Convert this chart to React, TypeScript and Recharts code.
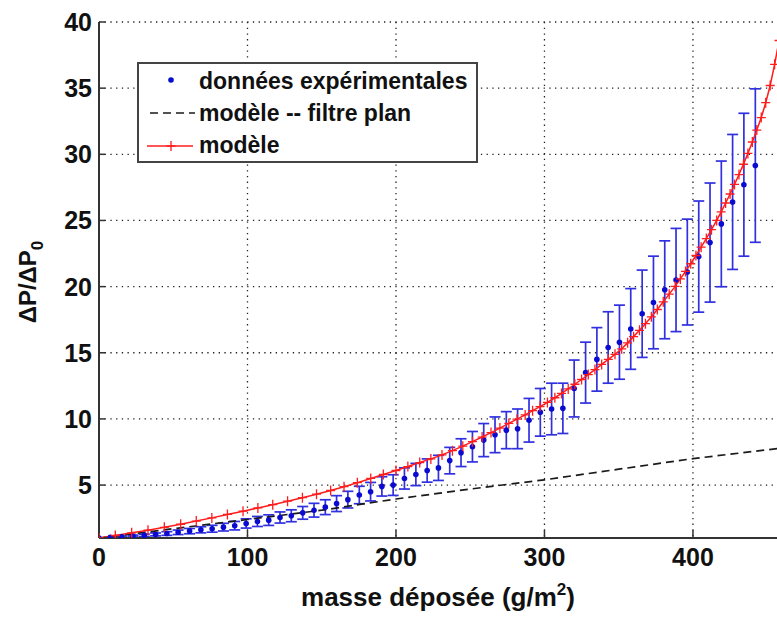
import React from 'react';
import { ComposedChart, Line, Scatter, XAxis, YAxis, CartesianGrid, ErrorBar, Legend, Label } from 'recharts';

const X_TICKS = [0, 100, 200, 300, 400];
const Y_TICKS = [5, 10, 15, 20, 25, 30, 35, 40];
const X_MAX = 456.6;
const Y_MIN = 1;
const Y_MAX = 40;

// données expérimentales (mean and +/- error)
const EXP_X = [0, 7.6, 15.2, 22.9, 30.5, 38.1, 45.7, 53.3, 61.0, 68.6, 76.2, 83.8, 91.4, 99.1, 106.7, 114.3, 121.9, 129.5, 137.2, 144.8, 152.4, 160.0, 167.6, 175.3, 182.9, 190.5, 198.1, 205.7, 213.4, 221.0, 228.6, 236.2, 243.8, 251.5, 259.1, 266.7, 274.3, 281.9, 289.6, 297.2, 304.8, 312.4, 320.0, 327.7, 335.3, 342.9, 350.5, 358.1, 365.8, 373.4, 381.0, 388.6, 396.2, 403.9, 411.5, 419.1, 426.7, 434.3, 442.0];
const EXP_Y = [1.0, 1.05, 1.1, 1.15, 1.2, 1.27, 1.34, 1.43, 1.52, 1.62, 1.7, 1.82, 1.93, 2.1, 2.25, 2.35, 2.55, 2.68, 2.9, 3.1, 3.33, 3.6, 3.9, 4.25, 4.5, 4.9, 5.0, 5.5, 5.8, 6.1, 6.3, 6.85, 7.45, 7.9, 8.4, 8.8, 9.15, 9.25, 9.9, 10.5, 10.75, 10.8, 12.3, 13.5, 14.5, 15.4, 15.8, 16.8, 17.95, 18.8, 19.76, 20.5, 21.1, 22.27, 23.33, 24.74, 26.4, 27.7, 29.15];
const EXP_ERR = [0, 0.03, 0.05, 0.07, 0.09, 0.11, 0.14, 0.17, 0.2, 0.23, 0.26, 0.29, 0.32, 0.35, 0.38, 0.4, 0.42, 0.45, 0.48, 0.52, 0.56, 0.6, 0.63, 0.66, 0.7, 0.73, 0.78, 0.8, 0.84, 0.88, 0.95, 1.0, 1.05, 1.15, 1.25, 1.35, 1.4, 1.5, 1.65, 1.8, 1.95, 1.9, 2.15, 2.3, 2.4, 2.7, 2.8, 3.05, 3.3, 3.5, 3.7, 3.9, 4.0, 4.2, 4.5, 4.75, 5.1, 5.4, 5.8];

// modèle (red, + markers)
const MODEL_X = [0, 11, 22, 33, 44, 55, 65.5, 76, 86.5, 97, 107, 117, 127, 137, 146.5, 156, 165, 174, 183, 191.5, 200, 208, 216, 223.5, 231, 238, 245, 251.5, 258, 264, 270, 276, 281.5, 287, 292, 297, 302, 307, 311.5, 316, 320.5, 325, 329.5, 334, 338.5, 343, 347.5, 352, 356, 360, 364, 368, 372, 376, 380, 384, 388, 391.5, 395, 398.5, 402, 405.5, 409, 412.5, 416, 419, 422, 425, 428, 431, 434, 437, 440, 443, 446, 449, 452, 455, 458];
const MODEL_Y = [1.0, 1.19, 1.39, 1.59, 1.81, 2.04, 2.28, 2.52, 2.78, 3.03, 3.27, 3.52, 3.78, 4.05, 4.31, 4.59, 4.88, 5.18, 5.5, 5.8, 6.1, 6.4, 6.7, 6.98, 7.28, 7.6, 7.94, 8.28, 8.63, 8.97, 9.31, 9.66, 9.98, 10.3, 10.62, 10.93, 11.25, 11.6, 11.93, 12.27, 12.62, 12.98, 13.35, 13.73, 14.12, 14.5, 14.88, 15.3, 15.75, 16.22, 16.7, 17.2, 17.72, 18.27, 18.85, 19.43, 20.02, 20.58, 21.15, 21.73, 22.35, 22.98, 23.63, 24.3, 25.0, 25.65, 26.32, 27.0, 27.72, 28.47, 29.25, 30.07, 30.93, 31.83, 32.78, 33.9, 35.2, 36.8, 38.6];

// modèle -- filtre plan (black dashed)
const PLAN_X = [0, 50, 100, 150, 200, 250, 300, 350, 400, 460];
const PLAN_Y = [1.0, 1.7, 2.4, 3.1, 3.95, 4.7, 5.4, 6.2, 7.0, 7.8];

const LEGEND_LABELS = ['données expérimentales', 'modèle -- filtre plan', 'modèle'];

const expData = EXP_X.map((x, i) => ({ x, y: EXP_Y[i], err: EXP_ERR[i] }));
const modelData = MODEL_X.map((x, i) => ({ x, y: MODEL_Y[i] }));
const planData = PLAN_X.map((x, i) => ({ x, y: PLAN_Y[i] }));

const FONT = '"Liberation Sans", Arial, Helvetica, sans-serif';
const BLUE = '#0a0ad0';
const BLUE_BAR = '#3030e0';
const RED = '#ff1c1c';
const DARK = '#1a1a1a';

const XTick = (props: any) => {
  const { x, y, payload } = props;
  return (
    <text x={x} y={y} textAnchor="middle" fontFamily={FONT} fontWeight="bold" fontSize={25} fill="#111">
      {payload.value}
    </text>
  );
};

const YTick = (props: any) => {
  const { x, y, payload } = props;
  return (
    <text x={x} y={y} dy={9} textAnchor="end" fontFamily={FONT} fontWeight="bold" fontSize={25} fill="#111">
      {payload.value}
    </text>
  );
};

const BlueDot = (props: any) => {
  const { cx, cy } = props;
  if (cx == null || cy == null) return null;
  return <circle cx={cx} cy={cy} r={2.8} fill={BLUE} />;
};

const PlusDot = (props: any) => {
  const { cx, cy, index } = props;
  if (cx == null || cy == null) return null;
  return (
    <path
      key={`p-${index}`}
      d={`M${cx - 4.5},${cy}H${cx + 4.5}M${cx},${cy - 5}V${cy + 5}`}
      stroke={RED}
      strokeWidth={1.3}
      fill="none"
    />
  );
};

const XLabel = () => (
  <text x={438} y={606} textAnchor="middle" fontFamily={FONT} fontWeight="bold" fontSize={26} fill="#111">
    masse déposée (g/m
    <tspan dy={-11} fontSize={17}>2</tspan>
    <tspan dy={11}>)</tspan>
  </text>
);

const YLabel = () => (
  <text
    transform="translate(36,282) rotate(-90)"
    textAnchor="middle"
    fontFamily={FONT}
    fontWeight="bold"
    fontSize={24}
    fill="#111"
  >
    ΔP/ΔP
    <tspan dy={7} fontSize={17}>0</tspan>
  </text>
);

const LegendBox = () => (
  <svg width={342} height={102} style={{ display: 'block' }}>
    <rect x={1} y={1} width={339} height={99} fill="#fff" stroke="#444" strokeWidth={2} />
    <circle cx={34} cy={18} r={2.8} fill={BLUE} />
    <line x1={13} y1={51} x2={58} y2={51} stroke={DARK} strokeWidth={1.6} strokeDasharray="8 5" />
    <line x1={10} y1={84} x2={56} y2={84} stroke={RED} strokeWidth={1.5} />
    <path d="M29.5,84H38.5M34,79V89" stroke={RED} strokeWidth={1.3} />
    {LEGEND_LABELS.map((t, i) => (
      <text key={t} x={62} y={27 + i * 32} fontFamily={FONT} fontWeight="bold" fontSize={23} fill="#111">
        {t}
      </text>
    ))}
  </svg>
);

export default function App() {
  return (
    <div style={{ position: 'absolute', left: 0, top: 0, width: 777, height: 617, background: '#fff' }}>
      <ComposedChart width={777} height={617} margin={{ top: 22, right: 0, bottom: 0, left: 0 }}>
        <CartesianGrid
          stroke="#222"
          strokeWidth={1.3}
          strokeDasharray="1.3 4.4"
          horizontalValues={Y_TICKS}
          verticalValues={X_TICKS}
        />
        <XAxis
          type="number"
          dataKey="x"
          domain={[0, X_MAX]}
          ticks={X_TICKS}
          allowDataOverflow
          height={79}
          tickSize={-8}
          tickMargin={36}
          tick={XTick}
          axisLine={{ stroke: '#333', strokeWidth: 2 }}
          tickLine={{ stroke: '#333', strokeWidth: 1.5 }}
        >
          <Label content={XLabel} />
        </XAxis>
        <YAxis
          type="number"
          dataKey="y"
          domain={[Y_MIN, Y_MAX]}
          ticks={Y_TICKS}
          allowDataOverflow
          width={99}
          tickSize={-6}
          tickMargin={13}
          tick={YTick}
          axisLine={{ stroke: '#333', strokeWidth: 2 }}
          tickLine={{ stroke: '#333', strokeWidth: 1.5 }}
        >
          <Label content={YLabel} />
        </YAxis>
        <Scatter data={expData} dataKey="y" fill={BLUE} shape={BlueDot} isAnimationActive={false}>
          <ErrorBar dataKey="err" direction="y" width={5.5} stroke={BLUE_BAR} strokeWidth={1.7} isAnimationActive={false} />
        </Scatter>
        <Line
          data={planData}
          dataKey="y"
          type="linear"
          stroke={DARK}
          strokeWidth={1.7}
          strokeDasharray="8 5"
          dot={false}
          activeDot={false}
          isAnimationActive={false}
        />
        <Line
          data={modelData}
          dataKey="y"
          type="linear"
          stroke={RED}
          strokeWidth={1.5}
          dot={PlusDot}
          activeDot={false}
          isAnimationActive={false}
        />
        <Legend
          layout="vertical"
          align="center"
          verticalAlign="middle"
          wrapperStyle={{ position: 'absolute', left: 137, top: 62, width: 342, height: 102 }}
          content={() => <LegendBox />}
        />
      </ComposedChart>
    </div>
  );
}
